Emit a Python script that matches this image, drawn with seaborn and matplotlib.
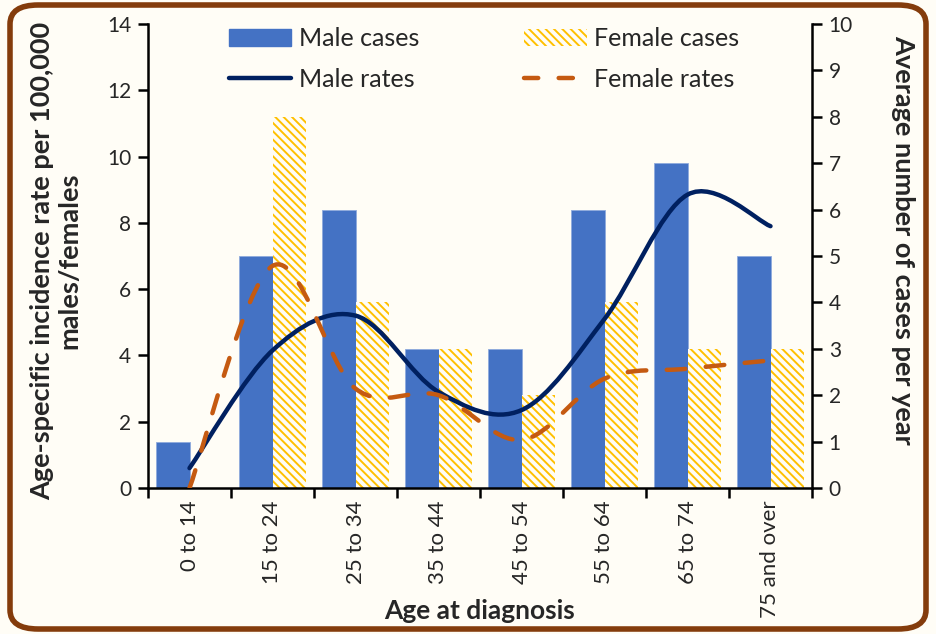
import numpy as np
import pandas as pd
import matplotlib
matplotlib.use("Agg")
import matplotlib.pyplot as plt
import seaborn as sns
from matplotlib.path import Path
from matplotlib.patches import PathPatch, Patch, FancyBboxPatch
from matplotlib.lines import Line2D

categories = ["0 to 14", "15 to 24", "25 to 34", "35 to 44",
              "45 to 54", "55 to 64", "65 to 74", "75 and over"]
male_cases = [1, 5, 6, 3, 3, 6, 7, 5]
female_cases = [0, 8, 4, 3, 2, 4, 3, 3]
male_rates = [0.6, 4.15, 5.2, 2.9, 2.35, 5.1, 8.85, 7.9]
female_rates = [0.0, 6.7, 3.0, 2.8, 1.45, 3.3, 3.6, 3.85]
left_ticks = [0, 2, 4, 6, 8, 10, 12, 14]
right_ticks = list(range(0, 11))

BG = "#FFFDF6"
MALE_BAR = "#4472C4"
FEMALE_BAR = "#FFC000"
MALE_LINE = "#002060"
FEMALE_LINE = "#C55A11"
BORDER = "#843C0C"

sns.set_theme(style="white")
plt.rcParams["font.family"] = ["Lato", "DejaVu Sans"]
plt.rcParams["hatch.linewidth"] = 1.4

fig = plt.figure(figsize=(9.36, 6.34), dpi=100, facecolor=BG)
ax = fig.add_axes([148/936, 1-488/634, (812-148)/936, (488-24)/634])
ax2 = ax.twinx()

cases = pd.DataFrame({
    "age": categories * 2,
    "cases": male_cases + female_cases,
    "sex": ["Male"] * len(categories) + ["Female"] * len(categories),
})
sns.barplot(data=cases, x="age", y="cases", hue="sex",
            palette={"Male": MALE_BAR, "Female": FEMALE_BAR},
            width=0.8, saturation=1, legend=False, ax=ax2)
for bar in ax2.containers[1]:
    bar.set_facecolor(BG)
    bar.set_edgecolor(FEMALE_BAR)
    bar.set_linewidth(0)
    bar.set_hatch("\\\\\\\\")
for bar in ax2.containers[0]:
    bar.set_edgecolor("#8FAADC")
    bar.set_linewidth(0.6)


def smooth_path(xs, ys):
    pts = np.column_stack([xs, ys]).astype(float)
    n = len(pts)
    verts = [pts[0]]
    codes = [Path.MOVETO]
    for i in range(n - 1):
        p0 = pts[max(i - 1, 0)]
        p1 = pts[i]
        p2 = pts[i + 1]
        p3 = pts[min(i + 2, n - 1)]
        c1 = p1 + (p2 - p0) / 6.0
        c2 = p2 - (p3 - p1) / 6.0
        verts += [c1, c2, p2]
        codes += [Path.CURVE4] * 3
    return Path(verts, codes)


xpos = np.arange(len(categories))
ax.add_patch(PathPatch(smooth_path(xpos, male_rates), fill=False,
                       edgecolor=MALE_LINE, lw=3.2, capstyle="round",
                       joinstyle="round", zorder=5))
ax.add_patch(PathPatch(smooth_path(xpos, female_rates), fill=False,
                       edgecolor=FEMALE_LINE, lw=3.2, capstyle="round",
                       linestyle=(0, (4.2, 4.6)), zorder=6))

ax.set_zorder(ax2.get_zorder() + 1)
ax.patch.set_visible(False)
ax2.patch.set_visible(False)

ax.set_xlim(-0.5, len(categories) - 0.5)
ax.set_ylim(0, 14)
ax2.set_ylim(0, 10)
ax.set_yticks(left_ticks)
ax2.set_yticks(right_ticks)

ax.set_xticks(np.arange(len(categories) + 1) - 0.5)
ax.set_xticklabels([])
ax.set_xticks(xpos, minor=True)
ax.set_xticklabels(categories, minor=True, rotation=90, fontsize=16,
                   va="top", ha="center")
ax.tick_params(axis="x", which="major", direction="out", length=7,
               width=1.8, color="black", bottom=True)
ax.tick_params(axis="x", which="minor", length=0, pad=9, bottom=True)
ax.tick_params(axis="y", direction="out", length=7, width=1.8,
               color="black", labelsize=15, pad=5, left=True)
ax2.tick_params(axis="y", direction="out", length=7, width=1.8,
                color="black", labelsize=15, pad=5, right=True)
ax.set_xlabel("")
ax.set_ylabel("")
ax2.set_xlabel("")
ax2.set_ylabel("")

for a in (ax, ax2):
    for s in a.spines.values():
        s.set_visible(False)
ax.spines["left"].set_visible(True)
ax.spines["bottom"].set_visible(True)
ax2.spines["right"].set_visible(True)
for s in (ax.spines["left"], ax.spines["bottom"], ax2.spines["right"]):
    s.set_linewidth(1.8)
    s.set_color("black")

fig.text(480/936, 1-611/634, "Age at diagnosis", ha="center", va="center",
         fontsize=19, fontweight="bold")
fig.text(56/936, 1-261/634,
         "Age-specific incidence rate per 100,000\nmales/females",
         ha="center", va="center", rotation=90, fontsize=19.5,
         fontweight="bold", multialignment="center", linespacing=1.15)
fig.text(903/936, 1-240/634, "Average number of cases per year",
         ha="center", va="center", rotation=-90, fontsize=19.5,
         fontweight="bold")

handles = [
    Patch(facecolor=MALE_BAR, edgecolor=MALE_BAR, label="Male cases"),
    Line2D([], [], color=MALE_LINE, lw=3.2, solid_capstyle="round",
           label="Male rates"),
    Patch(facecolor=BG, edgecolor=FEMALE_BAR, lw=0, hatch="\\\\\\\\",
          label="Female cases"),
    Line2D([], [], color=FEMALE_LINE, lw=3.2, dash_capstyle="round",
           linestyle=(0, (3.2, 4.6)), label="Female rates"),
]
leg = ax.legend(handles=handles, ncol=2, loc="upper center",
                bbox_to_anchor=(0.506, 1.0), frameon=False, fontsize=18,
                handlelength=2.5, handletextpad=0.3, columnspacing=4.2,
                labelspacing=0.72, borderaxespad=0.0, borderpad=0.12)

fig.patches.append(FancyBboxPatch((10/936, 5/634), 916/936, 624/634,
                                  boxstyle="round,pad=0,rounding_size=0.03",
                                  transform=fig.transFigure, fill=False,
                                  edgecolor=BORDER, lw=4, zorder=10))

fig.savefig("out.png", dpi=100, facecolor=BG)
